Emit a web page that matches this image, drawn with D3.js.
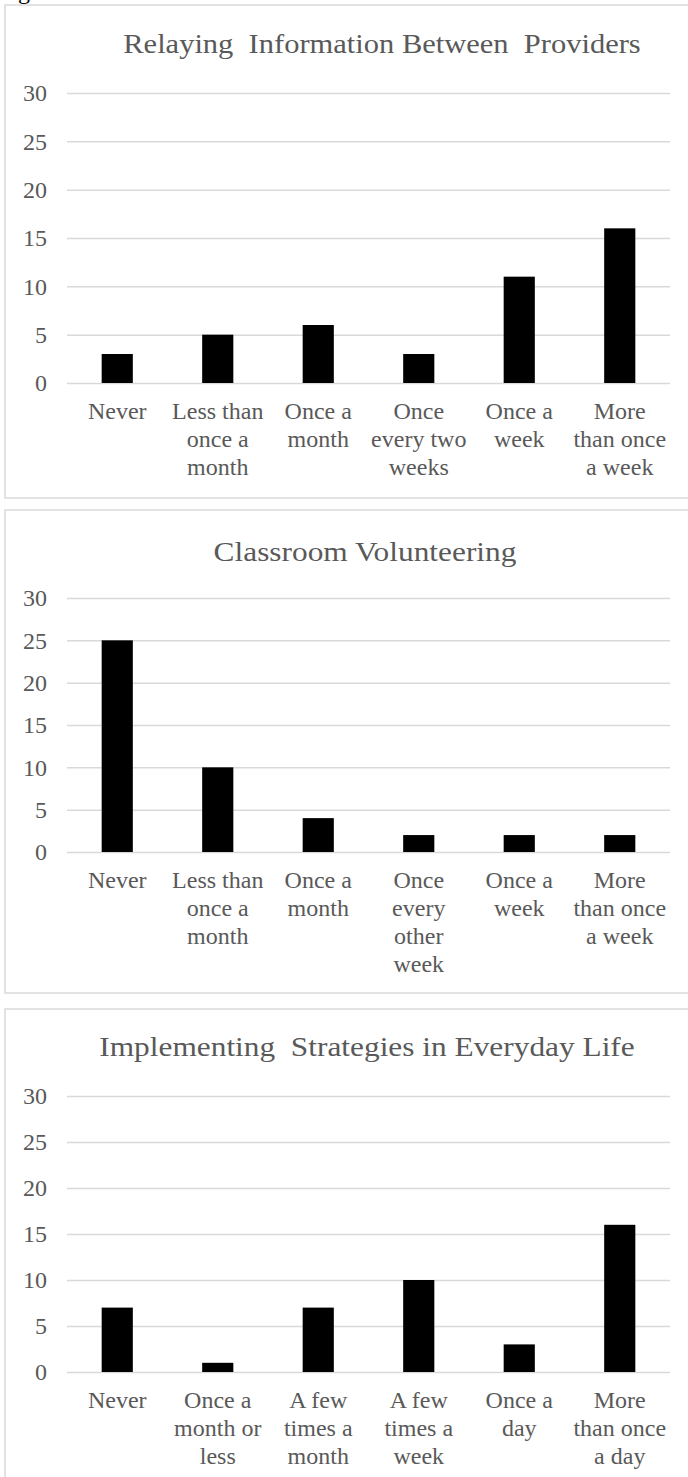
<!DOCTYPE html>
<html>
<head>
<meta charset="utf-8">
<script src="https://cdn.jsdelivr.net/npm/d3@7"></script>
<style>
  body { margin: 0; background: #fff; }
  svg { display: block; }
  text { font-family: "Liberation Serif", "Times New Roman", serif; fill: #595959; }
</style>
</head>
<body>
<svg id="vis" width="688" height="1477"></svg>
<script>
// Encontrar el SVG
const SVG = d3.select("#vis");

// Ticks del eje Y (comunes a los tres graficos)
const TICKS_Y = [0, 5, 10, 15, 20, 25, 30];

// Grafico 1
const TITULO_1 = "Relaying\u00a0\u00a0Information Between\u00a0\u00a0Providers";
const CATEGORIAS_1 = ["Never", "Less than|once a|month", "Once a|month", "Once|every two|weeks", "Once a|week", "More|than once|a week"];
const VALORES_1 = [3, 5, 6, 3, 11, 16];

// Grafico 2
const TITULO_2 = "Classroom Volunteering";
const CATEGORIAS_2 = ["Never", "Less than|once a|month", "Once a|month", "Once|every|other|week", "Once a|week", "More|than once|a week"];
const VALORES_2 = [25, 10, 4, 2, 2, 2];

// Grafico 3
const TITULO_3 = "Implementing\u00a0\u00a0Strategies in Everyday Life";
const CATEGORIAS_3 = ["Never", "Once a|month or|less", "A few|times a|month", "A few|times a|week", "Once a|day", "More|than once|a day"];
const VALORES_3 = [7, 1, 7, 10, 3, 16];

// Trozo del texto de la figura que queda cortado arriba
SVG.append("text")
  .attr("x", -2).attr("y", -1)
  .style("font-size", "24px").style("fill", "#000")
  .text("Fig");

// Dibuja un panel: caja, titulo, grilla, barras y etiquetas
function panel(cfg) {
  const g = SVG.append("g");

  // caja del panel (sale por la derecha del recorte)
  g.append("rect")
    .attr("x", 5).attr("y", cfg.top)
    .attr("width", 720).attr("height", cfg.bottom - cfg.top)
    .attr("fill", "none").attr("stroke", "#d9d9d9").attr("stroke-width", 1.5);

  const x = d3.scaleBand()
    .domain(cfg.categorias)
    .range([67, 670])
    .paddingInner(0.69)
    .paddingOuter(0.345);

  const y = d3.scaleLinear().domain([0, 30]).range([cfg.y0, cfg.y30]);

  // titulo, un poco ensanchado como en la imagen
  g.append("text")
    .attr("transform", `translate(${cfg.tituloX}, ${cfg.tituloY}) scale(${cfg.escala}, 1)`)
    .attr("text-anchor", "middle")
    .style("font-size", "28px")
    .text(cfg.titulo);

  // grilla con d3.axisLeft
  const eje = g.append("g")
    .attr("transform", "translate(67, 0)")
    .call(d3.axisLeft(y).tickValues(TICKS_Y).tickSize(-603).tickPadding(20));
  eje.select(".domain").remove();
  eje.selectAll("line").attr("stroke", "#d9d9d9").attr("stroke-width", 1.5);
  eje.selectAll("text")
    .style("font-size", "24px")
    .style("font-family", "'Liberation Serif', serif")
    .attr("fill", "#595959");

  // barras
  g.selectAll(".bar")
    .data(cfg.valores)
    .join("rect")
    .attr("class", "bar")
    .attr("x", (d, i) => x(cfg.categorias[i]))
    .attr("width", x.bandwidth())
    .attr("y", d => y(d))
    .attr("height", d => y(0) - y(d))
    .attr("fill", "#000");

  // etiquetas de categoria en varias lineas
  const etiquetas = g.selectAll(".cat")
    .data(cfg.categorias)
    .join("text")
    .attr("class", "cat")
    .attr("text-anchor", "middle")
    .style("font-size", "24px");
  etiquetas.selectAll("tspan")
    .data(d => d.split("|").map(t => ({ t, c: d })))
    .join("tspan")
    .attr("x", d => x(d.c) + x.bandwidth() / 2)
    .attr("y", (d, i) => y(0) + 36 + i * 28)
    .text(d => d.t);
}

panel({ top: 5, bottom: 498, tituloX: 382, tituloY: 53, escala: 1.09, y0: 383, y30: 93, titulo: TITULO_1, categorias: CATEGORIAS_1, valores: VALORES_1 });
panel({ top: 510, bottom: 993, tituloX: 365, tituloY: 561, escala: 1.12, y0: 852, y30: 598, titulo: TITULO_2, categorias: CATEGORIAS_2, valores: VALORES_2 });
panel({ top: 1009, bottom: 1500, tituloX: 367, tituloY: 1056, escala: 1.12, y0: 1372, y30: 1096, titulo: TITULO_3, categorias: CATEGORIAS_3, valores: VALORES_3 });
</script>
</body>
</html>
